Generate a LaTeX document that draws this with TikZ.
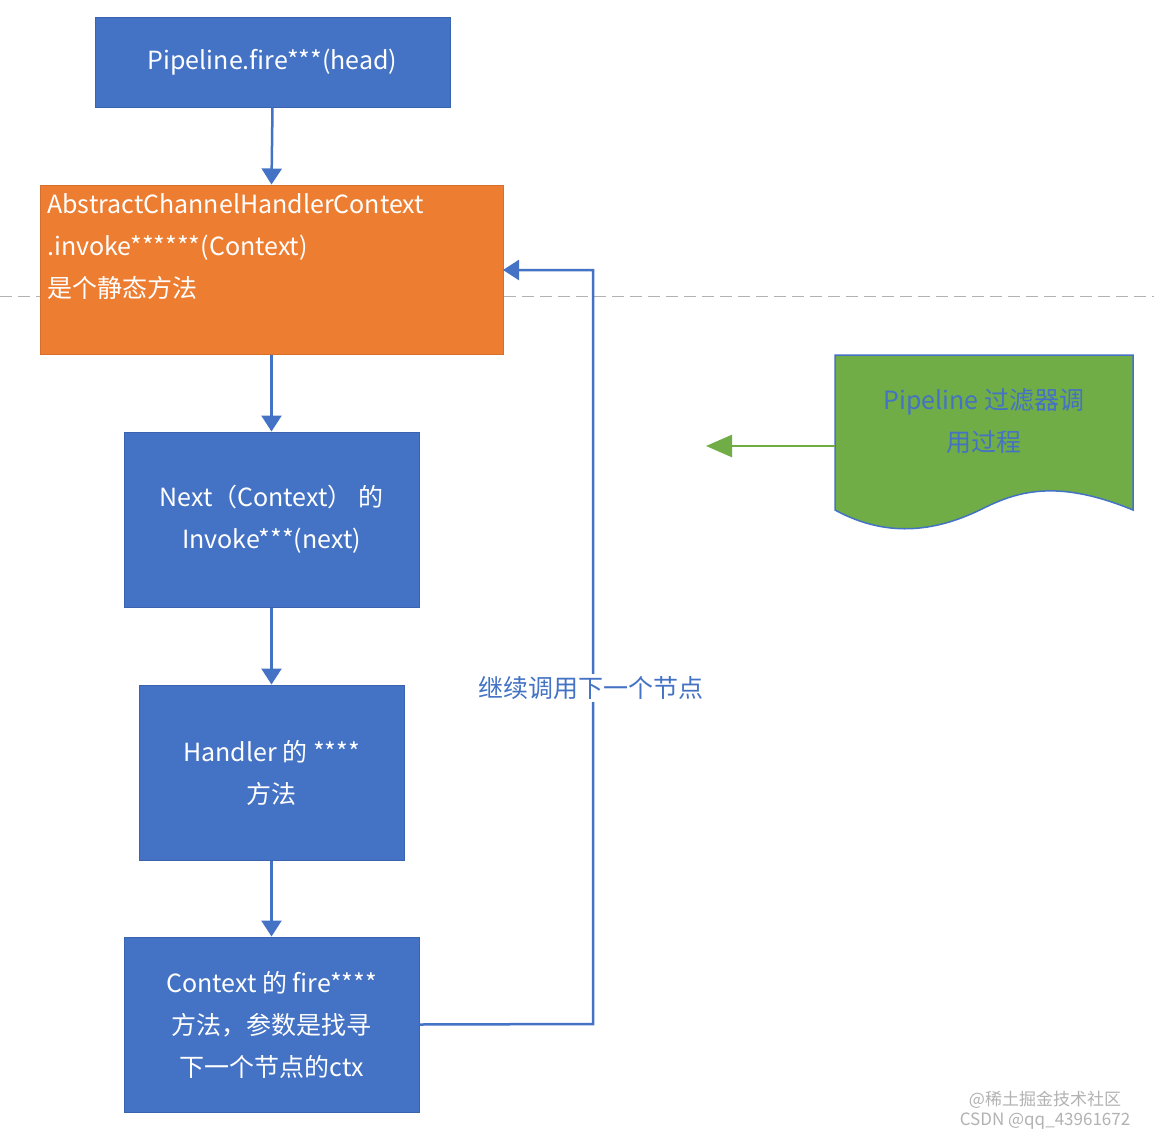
\documentclass[tikz,border=0pt]{standalone}
\usepackage{fontspec}
\setmainfont{Noto Sans CJK SC}
\usetikzlibrary{arrows.meta}
\definecolor{bl}{HTML}{4472C4}
\definecolor{bd}{HTML}{3A64B0}
\definecolor{orn}{HTML}{ED7D31}
\definecolor{grn}{HTML}{70AD47}
\begin{document}
\begin{tikzpicture}[x=1pt,y=-1pt,
  box/.style={fill=bl,draw=bd,line width=1pt,text=white,font=\fontsize{25}{42}\selectfont,align=center,inner sep=0},
  arr/.style={bl,line width=2.5pt,-{Triangle[length=16pt,width=20pt]}}]
\useasboundingbox (0,0) rectangle (1154,1140);
\fill[white] (0,0) rectangle (1154,1140);
\draw[gray!60,dashed,dash pattern=on 12pt off 6pt,line width=1pt] (0,296) -- (1154,296);
\node[box,minimum width=355,minimum height=89] (a) at (272.5,62.5) {Pipeline.fire***(head)};
\node[fill=orn,draw=orn!90!black,line width=1pt,minimum width=463,minimum height=169,inner sep=0] (b) at (271.5,269.5) {};
\node[text=white,font=\fontsize{25}{42}\selectfont,align=left,anchor=north west,inner sep=0] at (47,193) {AbstractChannelHandlerContext\\.invoke******(Context)\\是个静态方法};
\node[box,minimum width=295,minimum height=175] (c) at (271.5,519.5) {Next（Context） 的\\Invoke***(next)};
\node[box,minimum width=265,minimum height=175] (d) at (271.5,772.5) {Handler 的 ****\\方法};
\node[box,minimum width=295,minimum height=175] (e) at (271.5,1024.5) {Context 的 fire****\\方法，参数是找寻\\下一个节点的ctx};
\draw[arr] (a.south) -- (b.north);
\draw[arr] (b.south) -- (c.north);
\draw[arr] (c.south) -- (d.north);
\draw[arr] (d.south) -- (e.north);
\coordinate (p1) at (593,1024);
\coordinate (p2) at (593,270);
\coordinate (p3) at (503,270);
\draw[arr] (e.east) -- (p1) -- (p2) -- (p3);
\node[fill=white,text=bl,font=\fontsize{25}{30}\selectfont,inner sep=2pt] (lab) at (591,688) {继续调用下一个节点};
\draw[fill=grn,draw=bl,line width=1.5pt] (835,355) -- (1133,355) -- (1133,510)
  .. controls (1060,480) and (1020,490) .. (984,508)
  .. controls (940,530) and (890,540) .. (835,510) -- cycle;
\node[text=bl,font=\fontsize{25}{42}\selectfont,align=center] (g) at (984,421) {Pipeline 过滤器调\\用过程};
\coordinate (gw) at (835,446);
\coordinate (gt) at (706,446);
\draw[grn,line width=2.5pt,-{Triangle[length=26pt,width=22pt]}] (gw) -- (gt);
\node[text=gray!60,font=\fontsize{17}{20}\selectfont] (w1) at (1045,1100) {@稀土掘金技术社区};
\node[text=gray!60,font=\fontsize{17}{20}\selectfont] (w2) at (1045,1121) {CSDN @qq\_43961672};
\end{tikzpicture}
\end{document}
